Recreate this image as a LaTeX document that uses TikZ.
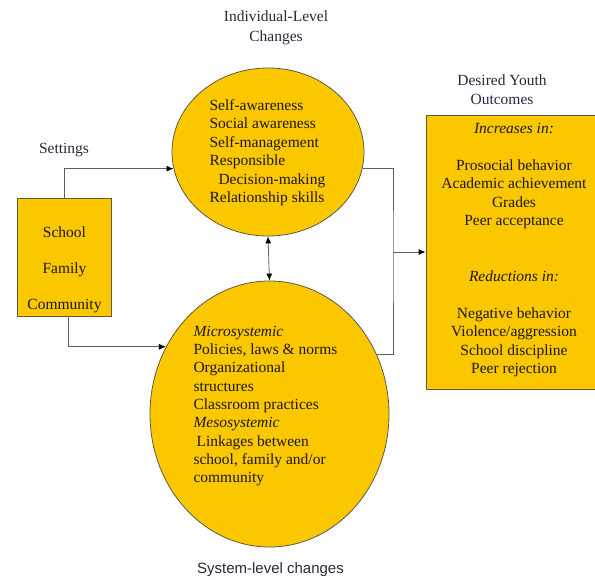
\documentclass[tikz,border=0pt]{standalone}
\usepackage{fontspec}
\setmainfont{Liberation Serif}
\newfontfamily\timesface{Liberation Serif}
\newfontfamily\plainsans{Liberation Sans}
\usepackage{tikz}
\usetikzlibrary{calc}
\usetikzlibrary{shapes}
\usetikzlibrary{arrows.meta}
\definecolor{gold}{RGB}{251,200,0}
\definecolor{rim}{RGB}{95,90,70}
\definecolor{wire}{RGB}{95,95,95}
\definecolor{heading}{RGB}{40,40,62}
\definecolor{ink}{RGB}{30,24,0}

\begin{document}
\begin{tikzpicture}[x=1pt, y=-1pt, >={Latex[length=7pt,width=6pt,color=black]},
  font=\timesface\fontsize{15.5}{18.5}\selectfont,
  panel/.style={draw=rim, fill=gold, line width=0.8pt},
  blob/.style={ellipse, draw=rim, fill=gold, line width=0.8pt, inner sep=0pt},
  heading/.style={text=heading, align=center},
  wire/.style={draw=wire, line width=0.8pt}]
\useasboundingbox (0,0) rectangle (595,579);
\clip (0,0) rectangle (595,579);

% boxes and ellipses
\node[name=settings, panel, minimum width=94, minimum height=118] at (64.5,257) {};
\node[name=indiv, blob, minimum width=192, minimum height=168] at (268,152) {};
\node[name=system, blob, minimum width=239, minimum height=266] at (269.5,414) {};
\node[name=outcomes, panel, minimum width=176, minimum height=274] at (514,252) {};

% headings
\node[name=indivhead, heading, font=\timesface\fontsize{15.5}{20}\selectfont] at (276,28) {Individual-Level\\Changes};
\node[name=outhead, heading] at (502,89.5) {Desired Youth\\Outcomes};
\node[name=sethead, heading] at (64,150) {Settings};
\node[name=syshead, text=heading, font=\plainsans\fontsize{15}{18}\selectfont] at (270.5,570) {System-level changes};

% texts
\node[name=settext, text=ink, align=center, font=\timesface\fontsize{15.5}{18}\selectfont] at (64.5,269.5)
  {School\\[18pt]Family\\[18pt]Community};
\node[name=indivtext, text=ink, align=left, anchor=west] at (206,152.5)
  {Self-awareness\\Social awareness\\Self-management\\Responsible\\\hspace{9pt}Decision-making\\Relationship skills};
\node[name=systext, text=ink, align=left, anchor=west, font=\timesface\fontsize{15.5}{18.3}\selectfont] at (190,406)
  {\textit{Microsystemic}\\Policies, laws \& norms\\Organizational\\structures\\Classroom practices\\
   \textit{Mesosystemic}\\\hspace{3pt}Linkages between\\school, family and/or\\community};
\node[name=outtext, text=ink, align=center] at (514,250)
  {\textit{Increases in:}\\[18.5pt]Prosocial behavior\\Academic achievement\\Grades\\Peer acceptance\\[37pt]
   \textit{Reductions in:}\\[18.5pt]Negative behavior\\Violence/aggression\\School discipline\\Peer rejection};

% connectors
\coordinate (rail) at (393,252);
\coordinate (lowdrop) at (68,0);
\draw[wire, ->] (settings.north) |- (indiv.190);
\draw[wire, ->] (settings.south -| lowdrop) |- (system.147);
\draw[wire] (indiv.-10) -| (rail) |- (system.29);
\draw[wire, ->] (rail) to (outcomes.west);
\draw[wire, <->] (indiv.south) to (system.north);
\end{tikzpicture}
\end{document}
